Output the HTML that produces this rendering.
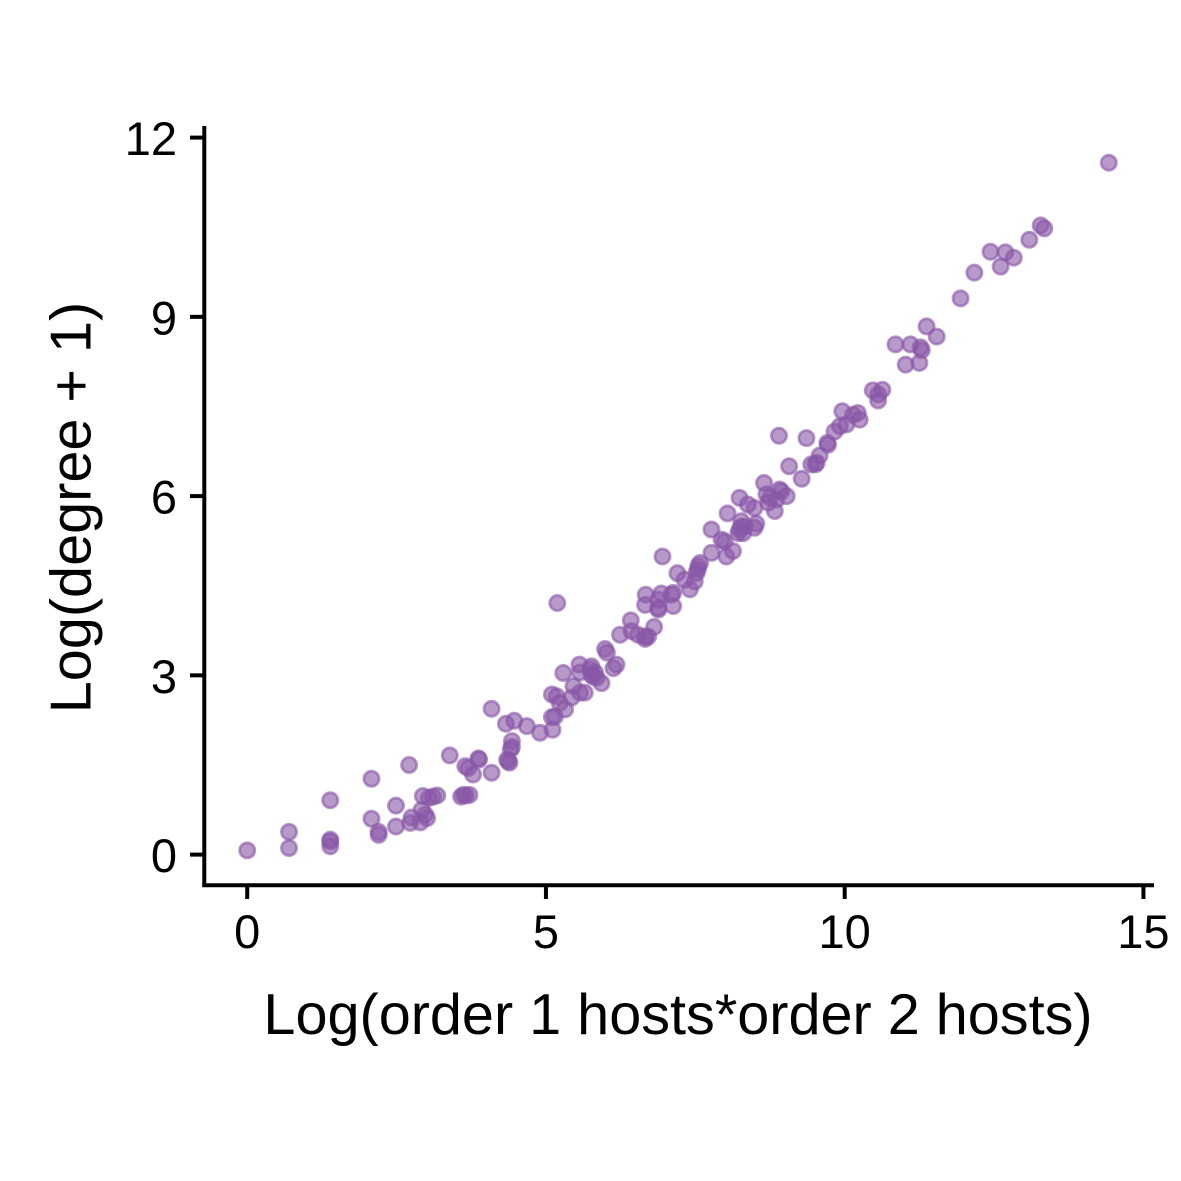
<!DOCTYPE html>
<html>
<head>
<meta charset="utf-8">
<title>Log degree scatter</title>
<style>
html,body{margin:0;padding:0;background:#fff;}
svg{display:block;}
text{font-family:"Liberation Sans",Arial,sans-serif;fill:#000;}
</style>
</head>
<body>
<svg id="chart" xmlns="http://www.w3.org/2000/svg" width="1181" height="1181" viewBox="0 0 1181 1181">
<rect x="0" y="0" width="1181" height="1181" fill="#ffffff"></rect>
<g id="points"></g>
<g id="axes"></g>
<text x="678" y="1034" font-size="57.6" text-anchor="middle">Log(order 1 hosts*order 2 hosts)</text>
<text transform="translate(90.5,507.5) rotate(-90)" font-size="57.6" text-anchor="middle">Log(degree + 1)</text>
</svg>
<script>
const xTicks = [0, 5, 10, 15];
const yTicks = [0, 3, 6, 9, 12];
const xValues = [0.00,0.70,0.70,1.39,1.39,1.39,1.39,2.08,2.08,2.20,2.20,2.71,2.49,2.49,2.73,2.75,2.90,3.01,2.98,2.94,3.04,3.11,3.18,2.92,3.58,3.62,3.66,3.72,3.39,3.65,3.70,3.78,3.87,3.88,4.09,4.09,4.33,4.47,4.68,4.37,4.35,4.39,4.43,4.43,4.41,4.90,5.11,5.10,5.15,5.10,5.18,5.19,5.29,5.32,5.23,5.46,5.43,5.57,5.65,5.56,5.57,5.76,5.74,5.79,5.85,5.76,5.82,5.93,5.99,6.02,6.18,6.13,6.24,6.42,6.43,6.54,6.66,6.66,6.71,6.81,6.67,6.66,6.88,6.88,6.88,6.95,6.93,7.13,7.13,7.10,7.20,7.32,7.41,7.49,7.54,7.55,7.52,7.58,7.77,7.77,7.94,7.99,8.02,8.13,8.04,8.24,8.27,8.24,8.30,8.22,8.33,8.27,8.52,8.49,8.38,8.49,8.65,8.69,8.72,8.75,8.83,8.86,8.94,8.91,9.03,8.90,9.07,9.28,9.36,9.44,9.51,9.53,9.58,9.71,9.72,9.83,9.92,9.96,10.03,10.14,10.22,10.25,10.47,10.63,10.56,10.56,10.85,11.10,11.02,11.25,11.27,11.29,11.37,11.54,11.94,12.17,12.44,12.61,12.69,12.83,13.09,13.28,13.34,14.42];
const yValues = [0.07,0.38,0.11,0.91,0.25,0.22,0.14,1.27,0.60,0.38,0.33,1.50,0.82,0.47,0.53,0.62,0.54,0.61,0.67,0.98,0.95,0.97,0.99,0.75,0.97,1.00,0.99,1.00,1.66,1.48,1.45,1.34,1.61,1.59,1.37,2.44,2.19,2.24,2.15,1.56,1.59,1.54,1.90,1.80,1.76,2.04,2.09,2.30,2.31,2.68,2.65,4.21,3.04,2.43,2.54,2.82,2.63,2.71,2.71,3.18,3.05,3.15,3.10,2.98,2.96,3.01,3.05,2.87,3.44,3.38,3.18,3.12,3.68,3.92,3.74,3.68,3.65,3.61,3.65,3.81,4.35,4.18,4.27,4.13,4.10,4.99,4.37,4.16,4.38,4.35,4.71,4.60,4.44,4.57,4.77,4.83,4.71,4.88,5.44,5.05,5.27,5.24,4.99,5.08,5.71,5.97,5.49,5.44,5.38,5.38,5.49,5.58,5.54,5.47,5.86,5.80,6.22,6.03,5.89,5.97,5.75,5.94,6.08,6.11,6.00,7.01,6.50,6.29,6.97,6.53,6.53,6.56,6.68,6.89,6.86,7.08,7.17,7.42,7.20,7.36,7.39,7.28,7.77,7.78,7.60,7.70,8.54,8.54,8.20,8.23,8.49,8.44,8.84,8.67,9.31,9.74,10.09,9.84,10.08,9.99,10.29,10.53,10.48,11.58];

const SVG_NS = 'http://www.w3.org/2000/svg';
const xScale = function (v) { return 247.2 + v * 59.75; };
const yScale = function (v) { return 854.6 - v * 59.75; };

function make(tag, attrs, parent) {
  const el = document.createElementNS(SVG_NS, tag);
  Object.keys(attrs).forEach(function (k) { el.setAttribute(k, attrs[k]); });
  parent.appendChild(el);
  return el;
}

const pointsLayer = document.getElementById('points');
xValues.forEach(function (xv, i) {
  const dot = make('circle', {
    cx: xScale(xv), cy: yScale(yValues[i]), r: 7.6,
    fill: '#8856a7', 'fill-opacity': 0.6,
    stroke: '#8856a7', 'stroke-opacity': 0.6, 'stroke-width': 2.8
  }, pointsLayer);
  
  
});

const axesLayer = document.getElementById('axes');
const axisStyle = { stroke: '#000', 'stroke-width': 4, fill: 'none' };
const xAxisLine = make('line', Object.assign({ x1: 202.3, y1: 885.3, x2: 1154, y2: 885.3 }, axisStyle), axesLayer);


const yAxisLine = make('line', Object.assign({ x1: 204.3, y1: 126, x2: 204.3, y2: 887 }, axisStyle), axesLayer);



xTicks.forEach(function (t) {
  const x = xScale(t);
  const tick = make('line', Object.assign({ x1: x, y1: 885, x2: x, y2: 899 }, axisStyle), axesLayer);
  
  
  const label = make('text', { x: x, y: 948, 'font-size': 47, 'text-anchor': 'middle' }, axesLayer);
  label.textContent = String(t);
  
  
});

yTicks.forEach(function (t) {
  const y = yScale(t);
  const tick = make('line', Object.assign({ x1: 190, y1: y, x2: 204, y2: y }, axisStyle), axesLayer);
  
  
  const label = make('text', { x: 177, y: y + 17.5, 'font-size': 47, 'text-anchor': 'end' }, axesLayer);
  label.textContent = String(t);
  
  
});
</script>
</body>
</html>
